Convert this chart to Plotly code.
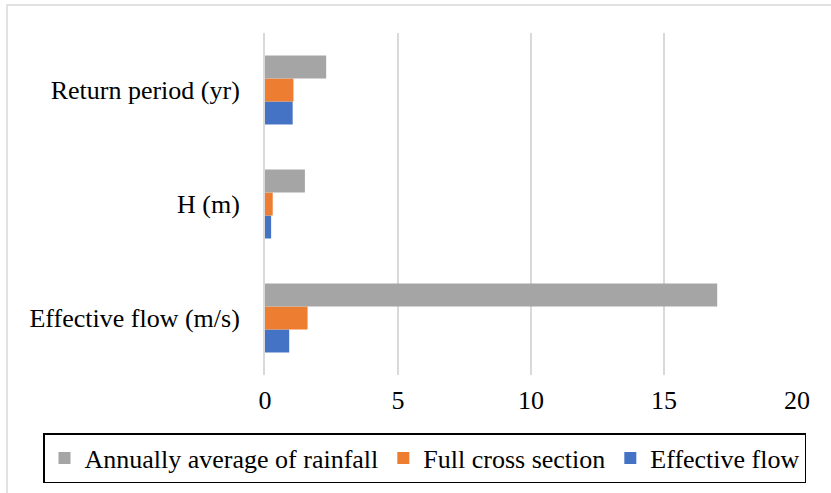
import plotly.graph_objects as go

# Categories (bottom to top on the y axis)
categories = ["Effective flow (m/s)", "H (m)", "Return period (yr)"]

# Series values, one per category
rainfall = [17.0, 1.5, 2.3]
full_section = [1.6, 0.29, 1.07]
effective_flow = [0.91, 0.23, 1.04]

tick_vals = [0, 5, 10, 15, 20]

GRAY = "#A5A5A5"
ORANGE = "#ED7D31"
BLUE = "#4472C4"
GRID = "#D9D9D9"
FONT = "Liberation Serif"
FSIZE = 26

# plot-area geometry in pixels
L, R, T, B = 265, 797, 33, 375
PW, PH = R - L, B - T

fig = go.Figure()
# Added bottom-to-top within each group; legend order reversed below
fig.add_trace(go.Bar(y=categories, x=effective_flow, name="Effective flow",
                     orientation="h", marker=dict(color=BLUE, line=dict(width=0))))
fig.add_trace(go.Bar(y=categories, x=full_section, name="Full cross section",
                     orientation="h", marker=dict(color=ORANGE, line=dict(width=0))))
fig.add_trace(go.Bar(y=categories, x=rainfall, name="Annually average of rainfall",
                     orientation="h", marker=dict(color=GRAY, line=dict(width=0))))

fig.update_layout(
    width=831, height=493,
    margin=dict(l=L, r=831 - R, t=T, b=493 - B, autoexpand=False),
    paper_bgcolor="white", plot_bgcolor="white",
    barmode="group", bargap=0.395, bargroupgap=0,
    font=dict(family=FONT, size=FSIZE, color="black"),
    showlegend=True,
    legend=dict(
        orientation="h", traceorder="reversed",
        x=(43 - L) / PW, xanchor="left",
        y=(B - 433) / PH, yanchor="top",
        bordercolor="black", borderwidth=1.5,
        font=dict(family=FONT, size=FSIZE, color="black"),
        itemwidth=30, tracegroupgap=0,
    ),
    xaxis=dict(
        range=[0, 20], tickvals=tick_vals,
        showgrid=True, gridcolor=GRID, gridwidth=1.5,
        zeroline=False, showline=False, ticks="",
        ticklabelstandoff=7,
        tickfont=dict(family=FONT, size=FSIZE, color="black"),
    ),
    yaxis=dict(
        categoryorder="array", categoryarray=categories,
        showgrid=False, zeroline=False,
        showline=True, linecolor=GRID, linewidth=2,
        ticks="", ticklabelstandoff=18,
        tickfont=dict(family=FONT, size=FSIZE, color="black"),
    ),
    shapes=[
        # outer chart-area frame
        dict(type="rect", xref="paper", yref="paper",
             x0=(7 - L) / PW, x1=(840 - L) / PW,
             y0=(B - 500) / PH, y1=(B - 5) / PH,
             line=dict(color=GRID, width=1.5), fillcolor="rgba(0,0,0,0)",
             layer="below"),
    ],
)

fig.write_html("out.html")
